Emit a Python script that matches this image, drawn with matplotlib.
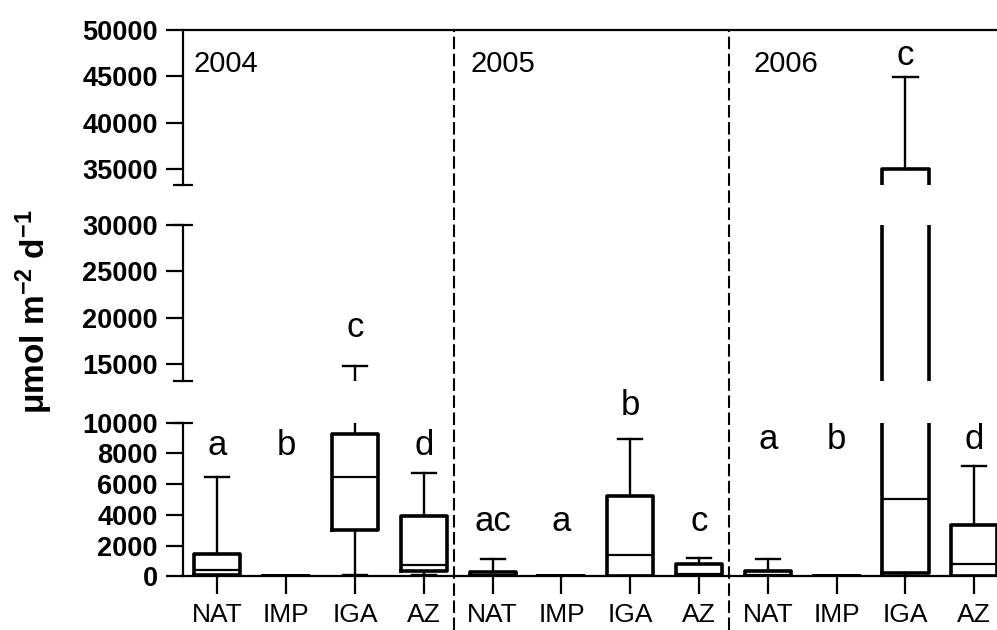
import matplotlib
matplotlib.use("Agg")
import matplotlib.pyplot as plt
from matplotlib.lines import Line2D
from matplotlib.ticker import FixedLocator
from matplotlib.transforms import blended_transform_factory

plt.rcParams['font.family'] = ['Liberation Sans', 'DejaVu Sans']
plt.rcParams['mathtext.fontset'] = 'custom'
plt.rcParams['mathtext.rm'] = 'Liberation Sans:bold'
plt.rcParams['mathtext.it'] = 'Liberation Sans:bold'
plt.rcParams['mathtext.bf'] = 'Liberation Sans:bold'

years = ['2004', '2005', '2006']
sites = ['NAT', 'IMP', 'IGA', 'AZ']

# box summaries, one entry per site and year (2004 NAT..AZ, 2005 ..., 2006 ...)
low_whisker = [0, 0, 80, 80, 0, 0, 0, 0, 0, 0, 0, 0]
q1 = [80, 0, 3000, 360, 20, 0, 20, 30, 20, 0, 200, 20]
median = [400, 0, 6450, 730, 100, 0, 1360, 150, 60, 0, 5030, 790]
q3 = [1480, 0, 9290, 3910, 260, 0, 5200, 790, 360, 0, 35050, 3330]
high_whisker = [6470, 0, 14860, 6730, 1120, 40, 8920, 1180, 1120, 0, 44950, 7180]

# significance letters and the height they sit at
letters = ['a', 'b', 'c', 'd', 'ac', 'a', 'b', 'c', 'a', 'b', 'c', 'd']
letter_y = [7890, 7890, 17920, 7890, 2940, 2940, 10520, 2940, 8320, 8320, 46230, 8320]

# broken y axis: (low, high) of each segment, bottom to top
segments = [(0, 10000), (13200, 30000), (33300, 50000)]
seg_ticks = [list(range(0, 10001, 2000)),
             [15000, 20000, 25000, 30000],
             [35000, 40000, 45000, 50000]]

W, H = 997, 630
fig = plt.figure(figsize=(W / 100, H / 100), dpi=100)

left = 183 / W
# pixel rows (top, bottom) of each segment
seg_px = [(422.7, 577.3), (225, 381), (30, 185)]

n = len(years) * len(sites)
positions = list(range(n))
xlim = (-0.5, 11.33)

stats = []
for i in range(n):
    stats.append(dict(whislo=low_whisker[i], q1=q1[i], med=median[i],
                      q3=q3[i], whishi=high_whisker[i], fliers=[]))

lw_axis = 1.6
axes = []
for k, ((lo, hi), (ptop, pbot)) in enumerate(zip(segments, seg_px)):
    ax = fig.add_axes([left, 1 - pbot / H, 1 - left, (pbot - ptop) / H])
    axes.append(ax)
    ax.set_xlim(*xlim)
    if k == 0:
        ax.set_ylim(lo - 60, hi)
    else:
        ax.set_ylim(lo, hi)
    ax.patch.set_visible(False)

    ax.bxp(stats, positions=positions, widths=0.67, capwidths=0.35,
           showfliers=False, patch_artist=False,
           boxprops=dict(color='black', linewidth=2.6),
           whiskerprops=dict(color='black', linewidth=1.7),
           capprops=dict(color='black', linewidth=1.7),
           medianprops=dict(color='black', linewidth=1.6))

    for s in ['right', 'top', 'bottom']:
        ax.spines[s].set_visible(False)
    ax.spines['left'].set_linewidth(lw_axis)
    ax.spines['left'].set_bounds(lo, hi)

    ax.yaxis.set_major_locator(FixedLocator(seg_ticks[k]))
    ax.set_yticklabels([str(t) for t in seg_ticks[k]], fontsize=19.5,
                       fontweight='bold')
    ax.tick_params(axis='y', which='major', direction='out', length=12.2,
                   width=lw_axis, pad=6)

    # short caps marking where each segment is cut
    if k == 0:
        caps = [hi]
    elif k == 1:
        caps = [lo, hi]
    else:
        caps = [lo]
    ax.yaxis.remove_overlapping_locs = False
    ax.yaxis.set_minor_locator(FixedLocator(caps))
    ax.tick_params(axis='y', which='minor', direction='inout', length=14.4,
                   width=lw_axis)

    if k == 0:
        ax.spines['bottom'].set_visible(True)
        ax.spines['bottom'].set_position(('data', 0))
        ax.spines['bottom'].set_linewidth(lw_axis)
        ax.set_xticks(positions)
        ax.set_xticklabels(sites * len(years), fontsize=19)
        ax.tick_params(axis='x', direction='out', length=13, width=lw_axis,
                       pad=6.5)
    else:
        ax.set_xticks([])
    if k == 2:
        ax.spines['top'].set_visible(True)
        ax.spines['top'].set_linewidth(lw_axis)

bottom_ax, mid_ax, top_ax = axes

# year separators run through all segments
tr = blended_transform_factory(bottom_ax.transData, fig.transFigure)
for xd in [3.445, 7.44]:
    fig.add_artist(Line2D([xd, xd], [0, 1 - 30 / H], transform=tr,
                          color='black', linewidth=1.5,
                          linestyle=(0, (6, 2.2))))

# year labels
for yr, xd in zip(years, [-0.344, 3.678, 7.79]):
    top_ax.text(xd, 46285, yr, fontsize=21, ha='left', va='center')


def axis_for(value):
    if value < 12000:
        return bottom_ax
    if value < 32000:
        return mid_ax
    return top_ax


for i, (lab, yv) in enumerate(zip(letters, letter_y)):
    axis_for(yv).text(positions[i], yv, lab, fontsize=25, ha='center',
                      va='baseline', clip_on=False)

fig.text(0.034, 0.505, r'μmol m$^{-2}$ d$^{-1}$', rotation=90,
         fontsize=24, fontweight='bold', ha='center', va='center')

fig.savefig('out.png', dpi=100)
